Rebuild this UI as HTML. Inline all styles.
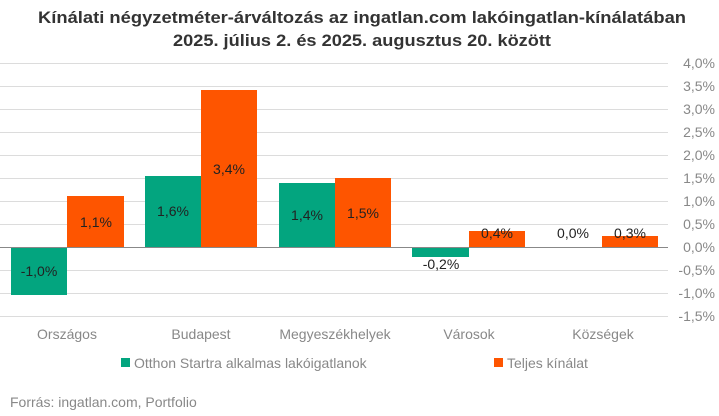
<!DOCTYPE html>
<html><head><meta charset="utf-8"><style>
body{margin:0;background:#fff;}
svg{display:block;font-family:"Liberation Sans",Arial,sans-serif;}
</style></head><body>
<svg width="719" height="416" xmlns="http://www.w3.org/2000/svg">
<text x="362" y="23" text-anchor="middle" font-size="17" font-weight="bold" fill="#333" textLength="648" lengthAdjust="spacingAndGlyphs">Kínálati négyzetméter-árváltozás az ingatlan.com lakóingatlan-kínálatában</text>
<text x="362" y="46" text-anchor="middle" font-size="17" font-weight="bold" fill="#333" textLength="378" lengthAdjust="spacingAndGlyphs">2025. július 2. és 2025. augusztus 20. között</text>
<g stroke="#dcdcdc" stroke-width="1">
<line x1="0" x2="668" y1="63.5" y2="63.5"/><line x1="0" x2="668" y1="86.5" y2="86.5"/>
<line x1="0" x2="668" y1="109.5" y2="109.5"/><line x1="0" x2="668" y1="132.5" y2="132.5"/>
<line x1="0" x2="668" y1="155.5" y2="155.5"/><line x1="0" x2="668" y1="178.5" y2="178.5"/>
<line x1="0" x2="668" y1="201.5" y2="201.5"/><line x1="0" x2="668" y1="224.5" y2="224.5"/>
<line x1="0" x2="668" y1="270.5" y2="270.5"/><line x1="0" x2="668" y1="293.5" y2="293.5"/>
<line x1="0" x2="668" y1="316.5" y2="316.5"/>
</g>
<g fill="#03a57f">
<rect x="11" y="247" width="56" height="48"/>
<rect x="145" y="176" width="56" height="71"/>
<rect x="279" y="183" width="56" height="64"/>
<rect x="412" y="247" width="57" height="10"/>
</g>
<g fill="#fe5500">
<rect x="67" y="196" width="57" height="51"/>
<rect x="201" y="90" width="56" height="157"/>
<rect x="335" y="178" width="56" height="69"/>
<rect x="469" y="231" width="56" height="16"/>
<rect x="602" y="236" width="56" height="11"/>
</g>
<line x1="0" x2="668" y1="247.5" y2="247.5" stroke="#888" stroke-width="1"/>
<g font-size="14" fill="#222" text-anchor="middle">
<text x="39" y="276">-1,0%</text>
<text x="96" y="227">1,1%</text>
<text x="173" y="216">1,6%</text>
<text x="229" y="174">3,4%</text>
<text x="307" y="220">1,4%</text>
<text x="363" y="218">1,5%</text>
<text x="441" y="269">-0,2%</text>
<text x="497" y="238">0,4%</text>
<text x="573" y="238">0,0%</text>
<text x="630" y="238">0,3%</text>
</g>
<g font-size="14" fill="#888" text-anchor="end">
<text x="715" y="68">4,0%</text><text x="715" y="91">3,5%</text><text x="715" y="114">3,0%</text>
<text x="715" y="137">2,5%</text><text x="715" y="160">2,0%</text><text x="715" y="183">1,5%</text>
<text x="715" y="206">1,0%</text><text x="715" y="229">0,5%</text><text x="715" y="252">0,0%</text>
<text x="715" y="275">-0,5%</text><text x="715" y="298">-1,0%</text><text x="715" y="321">-1,5%</text>
</g>
<g font-size="14" fill="#888" text-anchor="middle">
<text x="67" y="339">Országos</text><text x="201" y="339">Budapest</text>
<text x="335" y="339">Megyeszékhelyek</text><text x="469" y="339">Városok</text>
<text x="603" y="339">Községek</text>
</g>
<rect x="121" y="358" width="9" height="9" fill="#03a57f"/>
<text x="134" y="368" font-size="14" fill="#888">Otthon Startra alkalmas lakóigatlanok</text>
<rect x="494" y="358" width="9" height="9" fill="#fe5500"/>
<text x="507" y="368" font-size="14" fill="#888">Teljes kínálat</text>
<text x="10" y="407" font-size="14" fill="#888">Forrás: ingatlan.com, Portfolio</text>
</svg>
</body></html>
